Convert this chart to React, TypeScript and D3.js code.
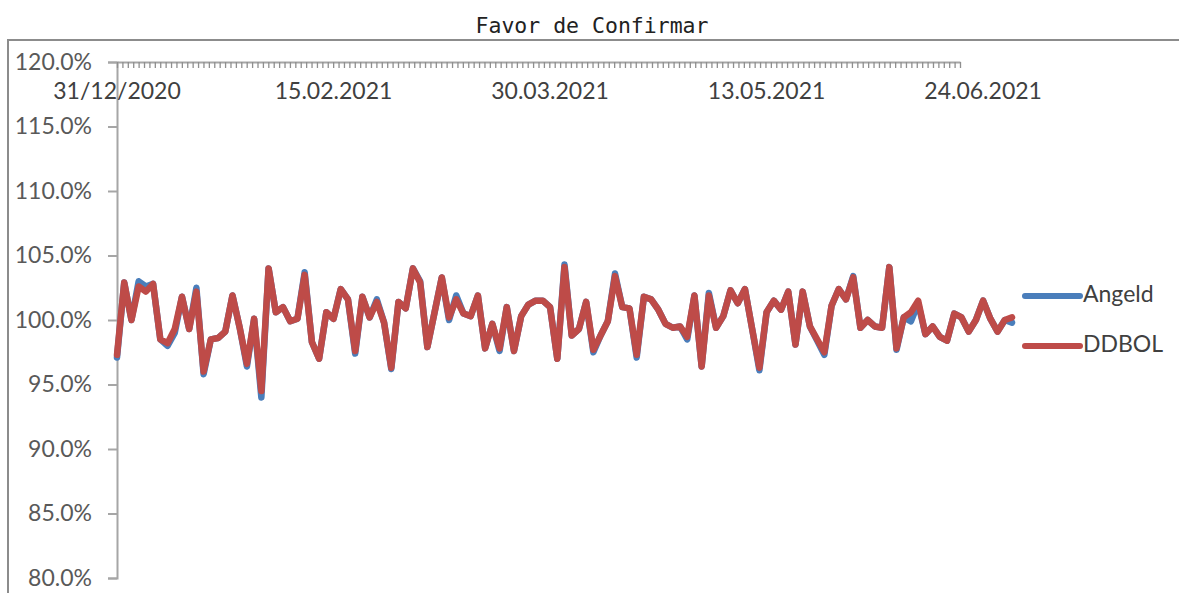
import { useEffect, useRef } from 'react';
import * as d3 from 'd3';

// daily values in percent
const ddbol = [
  97.3, 102.9, 100.0, 102.6, 102.2, 102.8, 98.5, 98.2, 99.3, 101.8,
  99.3, 102.2, 96.0, 98.5, 98.6, 99.1, 101.9, 99.4, 96.6, 100.1,
  94.5, 104.0, 100.6, 101.0, 99.9, 100.1, 103.5, 98.3, 97.0, 100.6,
  100.1, 102.4, 101.6, 97.6, 101.8, 100.2, 101.4, 99.8, 96.3, 101.4,
  100.9, 104.0, 102.9, 97.9, 100.6, 103.3, 100.2, 101.6, 100.5, 100.3,
  101.9, 97.8, 99.7, 97.8, 101.0, 97.6, 100.3, 101.2, 101.5, 101.5,
  101.0, 97.0, 104.1, 98.8, 99.3, 101.4, 97.7, 98.8, 99.9, 103.4,
  101.0, 100.9, 97.3, 101.8, 101.6, 100.8, 99.7, 99.4, 99.5, 98.7,
  101.9, 96.4, 101.9, 99.4, 100.3, 102.3, 101.3, 102.4, 99.3, 96.3,
  100.6, 101.5, 100.8, 102.2, 98.1, 102.2, 99.5, 98.5, 97.5, 101.1,
  102.4, 101.6, 103.3, 99.4, 100.0, 99.5, 99.4, 104.1, 97.8, 100.2,
  100.6, 101.5, 98.9, 99.5, 98.7, 98.4, 100.5, 100.2, 99.1, 100.0,
  101.5, 100.1, 99.1, 100.0, 100.2,
];

const angeld = [
  97.1, 102.9, 100.0, 103.0, 102.6, 102.8, 98.5, 98.0, 99.0, 101.8,
  99.3, 102.5, 95.8, 98.5, 98.6, 99.1, 101.9, 99.4, 96.4, 100.1,
  94.0, 104.0, 100.6, 101.0, 99.9, 100.1, 103.7, 98.3, 97.0, 100.6,
  100.1, 102.4, 101.6, 97.4, 101.8, 100.2, 101.6, 99.8, 96.2, 101.4,
  100.9, 104.0, 103.0, 97.9, 100.6, 103.3, 100.0, 101.9, 100.5, 100.3,
  101.9, 97.8, 99.7, 97.6, 101.0, 97.6, 100.3, 101.2, 101.5, 101.5,
  101.0, 97.0, 104.3, 98.8, 99.3, 101.4, 97.5, 98.8, 99.9, 103.6,
  101.0, 100.9, 97.1, 101.8, 101.6, 100.8, 99.7, 99.4, 99.5, 98.5,
  101.9, 96.4, 102.1, 99.4, 100.3, 102.3, 101.3, 102.4, 99.3, 96.1,
  100.6, 101.5, 100.8, 102.2, 98.1, 102.2, 99.5, 98.4, 97.3, 101.1,
  102.4, 101.6, 103.4, 99.4, 100.0, 99.5, 99.4, 104.1, 97.7, 100.2,
  99.9, 101.3, 98.9, 99.5, 98.7, 98.4, 100.5, 100.2, 99.1, 100.0,
  101.5, 100.1, 99.1, 100.0, 99.8,
];

const dateLabels = ['31/12/2020', '15.02.2021', '30.03.2021', '13.05.2021', '24.06.2021'];
const labelIndex = [0, 30, 60, 90, 120];
const yTicks = [80, 85, 90, 95, 100, 105, 110, 115, 120];

const series = [
  { name: 'Angeld', values: angeld, color: '#4A7EBB' },
  { name: 'DDBOL', values: ddbol, color: '#BE4B48' },
];

const W = 1179;
const H = 593;

export default function App() {
  const svgRef = useRef<SVGSVGElement>(null);

  useEffect(() => {
    if (!svgRef.current) return;
    const svg = d3.select(svgRef.current);
    svg.selectAll('*').remove();

    const left = 117;
    const top = 62;
    const bottom = 578;
    const font = 'Lato, sans-serif';

    const x = d3.scalePoint<number>()
      .domain(d3.range(ddbol.length))
      .range([left, 1012]);

    const y = d3.scaleLinear().domain([80, 120]).range([bottom, top]);

    // minor ticks of the top axis (one per calendar step)
    const tickScale = d3.scaleLinear().domain([0, 156]).range([left, 960]);

    // outer frame
    svg.append('path')
      .attr('d', `M8,${H} L8,40 L${W},40`)
      .attr('fill', 'none')
      .attr('stroke', '#8c8c8c')
      .attr('stroke-width', 2);

    // title
    svg.append('text')
      .attr('x', 592)
      .attr('y', 33)
      .attr('text-anchor', 'middle')
      .attr('font-family', '"DejaVu Sans Mono", monospace')
      .attr('font-size', 21.5)
      .attr('fill', '#222')
      .text('Favor de Confirmar');

    // y axis
    const yAxis = svg.append('g')
      .attr('transform', `translate(${left},0)`)
      .call(
        d3.axisLeft(y)
          .tickValues(yTicks)
          .tickSize(9)
          .tickPadding(16)
          .tickFormat((d) => `${(+d).toFixed(1)}%`)
      );
    yAxis.select('.domain').attr('stroke', '#a6a6a6').attr('stroke-width', 2);
    yAxis.selectAll('.tick line').attr('stroke', '#a6a6a6').attr('stroke-width', 2);
    yAxis.selectAll('.tick text')
      .attr('font-family', font)
      .attr('font-size', 23)
      .attr('fill', '#595959');

    // top x axis with dense ticks
    const xAxis = svg.append('g')
      .attr('transform', `translate(0,${top})`)
      .call(
        d3.axisBottom(tickScale)
          .tickValues(d3.range(0, 157))
          .tickSize(6)
          .tickSizeOuter(0)
          .tickFormat(() => '')
      );
    xAxis.select('.domain').attr('stroke', '#a6a6a6').attr('stroke-width', 2);
    xAxis.selectAll('.tick line').attr('stroke', '#8f8f8f').attr('stroke-width', 1.3);

    svg.append('g')
      .selectAll('text')
      .data(dateLabels)
      .enter()
      .append('text')
      .attr('x', (_, i) => x(labelIndex[i]) as number)
      .attr('y', 99)
      .attr('text-anchor', 'middle')
      .attr('font-family', font)
      .attr('font-size', 23)
      .attr('fill', '#404040')
      .text((d) => d);

    // lines
    const line = d3.line<number>()
      .x((_, i) => x(i) as number)
      .y((d) => y(d));

    series.forEach((s) => {
      svg.append('path')
        .datum(s.values)
        .attr('d', line)
        .attr('fill', 'none')
        .attr('stroke', s.color)
        .attr('stroke-width', 6.5)
        .attr('stroke-linejoin', 'round')
        .attr('stroke-linecap', 'round');
    });

    // legend
    const legend = svg.append('g');
    series.forEach((s, i) => {
      const ly = 296 + i * 50;
      legend.append('line')
        .attr('x1', 1025).attr('x2', 1080)
        .attr('y1', ly).attr('y2', ly)
        .attr('stroke', s.color)
        .attr('stroke-width', 6)
        .attr('stroke-linecap', 'round');
      legend.append('text')
        .attr('x', 1083)
        .attr('y', ly)
        .attr('dominant-baseline', 'middle')
        .attr('font-family', font)
        .attr('font-size', 23)
        .attr('fill', '#404040')
        .text(s.name);
    });
  }, []);

  return (
    <svg
      ref={svgRef}
      width={W}
      height={H}
      style={{ position: 'absolute', left: 0, top: 0, background: '#fff' }}
    />
  );
}
